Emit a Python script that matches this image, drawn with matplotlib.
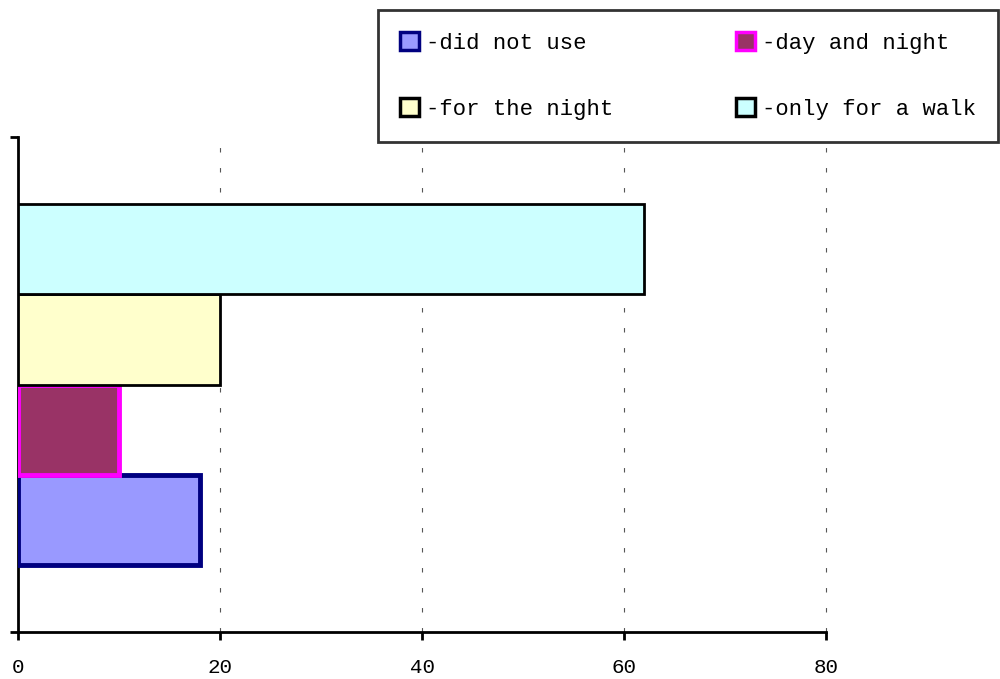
import matplotlib
matplotlib.use("Agg")
import matplotlib.pyplot as plt
from matplotlib.patches import Patch

categories = ["-did not use", "-day and night", "-for the night", "-only for a walk"]
values = [18, 10, 20, 62]
fills = ["#9999FF", "#993366", "#FFFFCC", "#CCFFFF"]
edges = ["#000080", "#FF00FF", "#000000", "#000000"]
edge_w = [3.5, 3.5, 2.0, 2.0]
xticks = [0, 20, 40, 60, 80]

plt.rcParams['font.family'] = ['Liberation Mono', 'DejaVu Sans Mono']
fig = plt.figure(figsize=(10, 6.79), dpi=100)
ax = fig.add_axes([0.018, 1 - 632 / 679, 0.808, (632 - 137) / 679])

h = 0.182
for i, (v, fc, ec, lw) in enumerate(zip(values, fills, edges, edge_w)):
    yc = 0.5 + (i - 1.5) * h
    ax.barh(yc, v, height=h, color=fc, edgecolor=ec, linewidth=lw, zorder=3)

ax.set_xlim(0, 80)
ax.set_ylim(0, 1)
ax.set_xticks(xticks)
ax.set_xticklabels([str(t) for t in xticks], fontsize=15)
ax.set_yticks([0, 1])
ax.set_yticklabels([])
for s in ["top", "right"]:
    ax.spines[s].set_visible(False)
for s in ["left", "bottom"]:
    ax.spines[s].set_linewidth(2)
ax.tick_params(axis='both', direction='out', length=6, width=2, pad=13)
ax.xaxis.grid(True, linestyle=(0, (4, 14)), color="#555555", linewidth=0.8, zorder=0)
for gl in ax.get_xgridlines():
    gl.set_clip_on(False)

handles = [Patch(facecolor=fc, edgecolor=ec, linewidth=2.5) for fc, ec in zip(fills, edges)]
order = [0, 2, 1, 3]
leg = fig.legend([handles[i] for i in order], [categories[i] for i in order],
                 ncol=2, loc='upper left', mode='expand',
                 bbox_to_anchor=(0.378, 1 - 10 / 679, 0.620, 0.0),
                 fontsize=16, frameon=True, fancybox=False, edgecolor='black',
                 handlelength=0.85, handleheight=0.85, handletextpad=0.3,
                 columnspacing=2.0, labelspacing=2.0, borderpad=1.0, borderaxespad=0)
leg.get_frame().set_linewidth(2)

fig.savefig("out.png", dpi=100)
